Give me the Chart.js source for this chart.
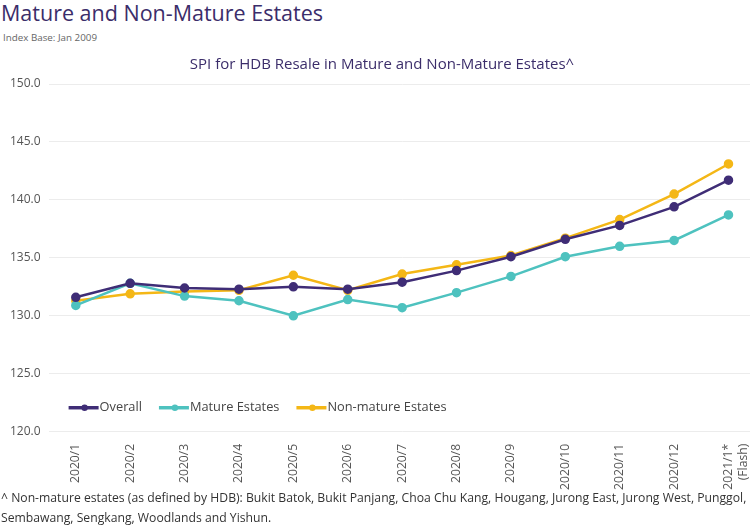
<!DOCTYPE html>
<html>
<head>
<meta charset="utf-8">
<script src="https://cdn.jsdelivr.net/npm/chart.js@4"></script>
<style>
    body{
        margin:0;
        width:750px;
        height:527px;
        background:#fff;
        font-family: "Open Sans", "DejaVu Sans", sans-serif;
        position:relative;
        overflow:hidden;
    }
    .titulo{
        position:absolute; left:1px; top:-2px;
        font-family: "Open Sans", sans-serif;
        font-size:21.5px; color:#3b2d6a;
    }
    .sub{
        position:absolute; left:3px; top:31px;
        font-size:9.8px; color:#666;
    }
    .nota{
        position:absolute; left:1px; top:488px;
        font-size:12.2px; color:#333; line-height:20px; white-space:nowrap;
    }
    .chart-container{
        position:absolute; left:2px; top:50px; width:760px; height:444px;
    }
</style>
</head>
<body>
<div class="titulo">Mature and Non-Mature Estates</div>
<div class="sub">Index Base: Jan 2009</div>
<div class="chart-container"><canvas id="chartjs"></canvas></div>
<div class="nota">^ Non-mature estates (as defined by HDB): Bukit Batok, Bukit Panjang, Choa Chu Kang, Hougang, Jurong East, Jurong West, Punggol,<br>Sembawang, Sengkang, Woodlands and Yishun.</div>

<script>
var meses = ["2020/1","2020/2","2020/3","2020/4","2020/5","2020/6","2020/7","2020/8","2020/9","2020/10","2020/11","2020/12",["2021/1*","(Flash)"]];
var overall    = [131.6,132.8,132.4,132.3,132.5,132.3,132.9,133.9,135.1,136.6,137.8,139.4,141.7];
var mature     = [130.9,132.8,131.7,131.3,130.0,131.4,130.7,132.0,133.4,135.1,136.0,136.5,138.7];
var nonMature  = [131.3,131.9,132.1,132.2,133.5,132.2,133.6,134.4,135.2,136.7,138.3,140.5,143.1];
var yTicks = [120,125,130,135,140,145,150];

function serie(label, data, color){
    return {"label":label, "data":data, "borderColor":color, "backgroundColor":color,
            "borderWidth":2.5, "pointRadius":3.5, "pointHoverRadius":3.5, "fill":false, "tension":0};
}

// leyenda dentro del area del grafico, abajo a la izquierda
var leyendaAdentro = {
    id:"leyendaAdentro",
    afterDraw:function(chart){
        var ctx = chart.ctx;
        var x = chart.chartArea.left + 20;
        var y = chart.chartArea.bottom - 24;
        ctx.save();
        ctx.font = "12.8px 'Open Sans', sans-serif";
        ctx.textBaseline = "middle";
        chart.data.datasets.forEach(function(ds){
            ctx.strokeStyle = ds.borderColor;
            ctx.fillStyle = ds.borderColor;
            ctx.lineWidth = 3.5;
            ctx.beginPath(); ctx.moveTo(x, y); ctx.lineTo(x+30, y); ctx.stroke();
            ctx.beginPath(); ctx.arc(x+16, y, 3.2, 0, Math.PI*2); ctx.fill();
            ctx.fillStyle = "#444";
            ctx.fillText(ds.label, x+31, y);
            x += 31 + ctx.measureText(ds.label).width + 17;
        });
        ctx.restore();
    }
};

var graph = new Chart(document.getElementById("chartjs"),{
    "type":"line",
    "data":{"labels":meses,
        "datasets":[
            serie("Overall", overall, "#3f2d76"),
            serie("Mature Estates", mature, "#4ec2bf"),
            serie("Non-mature Estates", nonMature, "#f4b716")
        ]},
    "options":{
        "responsive":true,
        "maintainAspectRatio":false,
        "animation":false,
        "layout":{"padding":{"left":0,"right":0,"top":0,"bottom":0}},
        "plugins":{
            "legend":{"display":false},
            "tooltip":{"enabled":false},
            "title":{"display":true,"text":"SPI for HDB Resale in Mature and Non-Mature Estates^",
                     "color":"#3b2d6a","font":{"family":"'Open Sans', sans-serif","size":15,"weight":"normal"},
                     "padding":{"top":6,"bottom":10}}
        },
        "scales":{
            "x":{
                "offset":true,
                "grid":{"display":false},
                "border":{"display":false},
                "ticks":{"color":"#555","maxRotation":90,"minRotation":90,"padding":4,
                         "font":{"family":"'Open Sans', sans-serif","size":12.2}}
            },
            "y":{
                "min":120,"max":150,
                "afterBuildTicks":function(axis){ axis.ticks = yTicks.map(function(v){ return {value:v}; }); },
                "grid":{"color":"#ececec","drawTicks":false},
                "border":{"display":false},
                "ticks":{"color":"#555","padding":8,"font":{"family":"'Open Sans', sans-serif","size":12},
                         "callback":function(v){ return v.toFixed(1); }}
            }
        }
    },
    "plugins":[leyendaAdentro]
});
</script>
</body>
</html>
